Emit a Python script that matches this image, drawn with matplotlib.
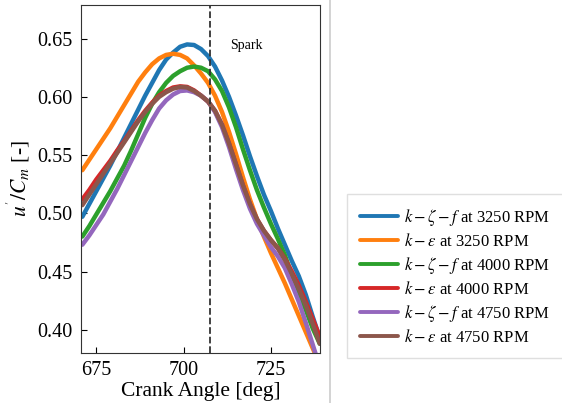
import numpy as np
import matplotlib
matplotlib.use("Agg")
import matplotlib.pyplot as plt
from matplotlib.lines import Line2D

plt.rcParams['font.family'] = 'serif'
plt.rcParams['font.serif'] = ['Liberation Serif', 'DejaVu Serif']
plt.rcParams['mathtext.fontset'] = 'stix'

# crank angle [deg], every 2 deg
ca = [671, 673, 675, 677, 679, 681, 683, 685, 687, 689, 691, 693,
      695, 697, 699, 701, 703, 705, 707, 709, 711, 713, 715, 717,
      719, 721, 723, 725, 727, 729, 731, 733, 735, 737, 739]

# u'/Cm for each model / engine speed
kzf_3250 = [0.497, 0.508, 0.519, 0.530, 0.541, 0.553, 0.565, 0.577, 0.589, 0.601, 0.612, 0.623,
            0.632, 0.638, 0.643, 0.645, 0.6445, 0.641, 0.635, 0.626, 0.614, 0.600, 0.584, 0.567,
            0.549, 0.532, 0.516, 0.502, 0.487, 0.473, 0.459, 0.446, 0.430, 0.411, 0.393]
ke_3250 = [0.537, 0.546, 0.555, 0.564, 0.573, 0.583, 0.593, 0.603, 0.613, 0.621, 0.628, 0.633,
           0.636, 0.637, 0.636, 0.633, 0.627, 0.620, 0.612, 0.601, 0.587, 0.570, 0.551, 0.531,
           0.512, 0.495, 0.480, 0.466, 0.453, 0.440, 0.426, 0.412, 0.398, 0.384, 0.370]
kzf_4000 = [0.480, 0.489, 0.499, 0.509, 0.519, 0.530, 0.541, 0.554, 0.568, 0.582, 0.594, 0.604,
            0.612, 0.618, 0.622, 0.625, 0.626, 0.625, 0.622, 0.615, 0.605, 0.591, 0.574, 0.555,
            0.537, 0.520, 0.505, 0.491, 0.478, 0.464, 0.447, 0.432, 0.417, 0.401, 0.388]
ke_4000 = [0.512, 0.520, 0.529, 0.537, 0.545, 0.554, 0.562, 0.571, 0.580, 0.588, 0.595, 0.601,
           0.605, 0.608, 0.609, 0.6085, 0.6055, 0.601, 0.596, 0.588, 0.576, 0.560, 0.542, 0.524,
           0.508, 0.495, 0.485, 0.477, 0.470, 0.461, 0.450, 0.438, 0.424, 0.409, 0.394]
kzf_4750 = [0.473, 0.481, 0.490, 0.499, 0.510, 0.521, 0.533, 0.545, 0.557, 0.569, 0.580, 0.590,
            0.597, 0.602, 0.605, 0.6055, 0.604, 0.601, 0.596, 0.587, 0.574, 0.557, 0.538, 0.520,
            0.504, 0.491, 0.481, 0.471, 0.463, 0.453, 0.439, 0.424, 0.406, 0.387, 0.368]
ke_4750 = [0.507, 0.516, 0.525, 0.534, 0.543, 0.552, 0.561, 0.570, 0.579, 0.587, 0.594, 0.600,
           0.604, 0.607, 0.6085, 0.608, 0.605, 0.601, 0.596, 0.588, 0.576, 0.560, 0.542, 0.524,
           0.508, 0.495, 0.485, 0.477, 0.470, 0.460, 0.448, 0.435, 0.421, 0.405, 0.388]

series = [kzf_3250, ke_3250, kzf_4000, ke_4000, kzf_4750, ke_4750]
labels = [r'$k-\zeta-f$ at 3250 RPM', r'$k-\varepsilon$ at 3250 RPM',
          r'$k-\zeta-f$ at 4000 RPM', r'$k-\varepsilon$ at 4000 RPM',
          r'$k-\zeta-f$ at 4750 RPM', r'$k-\varepsilon$ at 4750 RPM']
colors = ['#1f77b4', '#ff7f0e', '#2ca02c', '#d62728', '#9467bd', '#8c564b']
spark = 707.5

fig = plt.figure(figsize=(5.62, 4.03), dpi=100)
ax = fig.add_axes([0.144, 0.124, 0.425, 0.864])

for y, lab, c in zip(series, labels, colors):
    ax.plot(ca, y, color=c, lw=3.2, label=lab, solid_capstyle='round', solid_joinstyle='round')

ax.axvline(spark, color='#333333', ls='--', lw=1.3)
ax.text(713.4, 0.644, 'Spark', fontsize=10, va='center', ha='left')

ax.set_xlim(670.6, 739)
ax.set_ylim(0.38, 0.679)
ax.set_xticks([675, 700, 725])
ax.set_yticks([0.40, 0.45, 0.50, 0.55, 0.60, 0.65])
ax.set_yticklabels(['0.40', '0.45', '0.50', '0.55', '0.60', '0.65'])
ax.tick_params(direction='in', labelsize=14.5, length=4, width=0.8, pad=6)
ax.set_xlabel('Crank Angle [deg]', fontsize=15.5, labelpad=1)
ax.set_ylabel(r"$u^{'}/C_m$ [-]", fontsize=15.5, labelpad=4)
for s in ax.spines.values():
    s.set_color('#333333')

# separator line
fig.add_artist(Line2D([330/562, 330/562], [0, 1], color='#cccccc', lw=1.2))

h, l = ax.get_legend_handles_labels()
leg = fig.legend(h, l, loc='upper left', bbox_to_anchor=(347/562, 0, 0.45, 209/403),
                 mode='expand', fontsize=12, labelspacing=0.3, handlelength=2.3,
                 handletextpad=0.4, borderaxespad=0, borderpad=0.75,
                 fancybox=False, frameon=True)
leg.get_frame().set_edgecolor('#d8d8d8')
leg.get_frame().set_linewidth(1.0)
for line in leg.get_lines():
    line.set_linewidth(2.8)

fig.savefig('out.png', dpi=100)
